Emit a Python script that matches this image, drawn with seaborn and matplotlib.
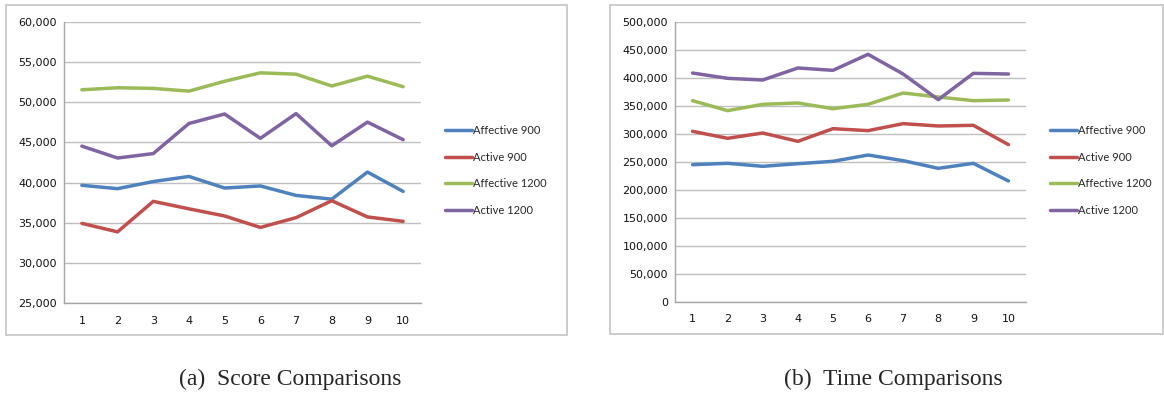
import matplotlib
matplotlib.use("Agg")
import matplotlib.pyplot as plt
import matplotlib.patches as patches
from matplotlib.ticker import FuncFormatter, FixedLocator
import numpy as np
import pandas as pd
import seaborn as sns

runs = [1, 2, 3, 4, 5, 6, 7, 8, 9, 10]
series_names = ["Affective 900", "Active 900", "Affective 1200", "Active 1200"]

# score comparisons
score_aff900 = [39660, 39240, 40130, 40760, 39320, 39580, 38400, 37930, 41310, 38900]
score_act900 = [34920, 33860, 37660, 36730, 35840, 34410, 35630, 37740, 35720, 35170]
score_aff1200 = [51560, 51810, 51730, 51390, 52620, 53670, 53500, 52030, 53250, 51940]
score_act1200 = [44540, 43060, 43610, 47360, 48540, 45510, 48590, 44580, 47530, 45340]

# time comparisons
time_aff900 = [245200, 247600, 242300, 247000, 251200, 262500, 252400, 238700, 247600, 216100]
time_act900 = [304800, 292300, 301800, 286900, 309500, 306000, 318500, 314300, 315500, 281000]
time_aff1200 = [359500, 341700, 353000, 355400, 345200, 353000, 373200, 366100, 359500, 360700]
time_act1200 = [408900, 399400, 396400, 417900, 413700, 442300, 407100, 361300, 408300, 407100]

colors = ["#4F81BD", "#C0504D", "#9BBB59", "#8064A2"]

def long_df(cols):
    frames = []
    for name, vals in zip(series_names, cols):
        frames.append(pd.DataFrame({"run": runs, "value": vals, "series": name}))
    return pd.concat(frames, ignore_index=True)

score_df = long_df([score_aff900, score_act900, score_aff1200, score_act1200])
time_df = long_df([time_aff900, time_act900, time_aff1200, time_act1200])

sns.set_style("white")
plt.rcParams["font.family"] = ["DejaVu Sans"]

W, H = 1164, 394
fig = plt.figure(figsize=(W / 100, H / 100), dpi=100)

def px_axes(x0, y0, x1, y1):
    return fig.add_axes([x0 / W, 1 - y1 / H, (x1 - x0) / W, (y1 - y0) / H])

# frames around each chart
for (x0, y0, x1, y1) in [(6, 5, 567, 335), (610, 5, 1163, 334)]:
    fig.patches.append(patches.Rectangle((x0 / W, 1 - y1 / H), (x1 - x0) / W, (y1 - y0) / H,
                                         transform=fig.transFigure, fill=False,
                                         edgecolor="#C4C4C4", linewidth=1.2))

def style_axes(ax, lo, hi, step, legend_x):
    ax.set_xlim(0.5, 10.5)
    ax.set_ylim(lo, hi)
    ax.set_yticks(np.arange(lo, hi + 1, step))
    ax.yaxis.set_major_formatter(FuncFormatter(lambda v, p: f"{int(v):,}"))
    ax.set_xticks(runs)
    ax.xaxis.set_minor_locator(FixedLocator(np.arange(0.5, 11, 1)))
    ax.tick_params(axis="x", which="major", length=0, labelsize=8, pad=9, labelcolor="#111111")
    ax.tick_params(axis="x", which="minor", length=3, color="#A6A6A6", width=1)
    ax.tick_params(axis="y", length=3, color="#A6A6A6", width=1, labelsize=8, pad=2,
                   labelcolor="#111111")
    ax.yaxis.grid(True, color="#BFBFBF", linewidth=1)
    ax.set_axisbelow(True)
    for s in ["top", "right"]:
        ax.spines[s].set_visible(False)
    for s in ["left", "bottom"]:
        ax.spines[s].set_color("#A6A6A6")
        ax.spines[s].set_linewidth(1)
    ax.set_xlabel("")
    ax.set_ylabel("")
    handles, labels = ax.get_legend_handles_labels()
    if ax.get_legend() is not None:
        ax.get_legend().remove()
    fig.legend(handles, labels, loc="center left",
               bbox_to_anchor=(legend_x / W, 1 - 170.5 / H),
               frameon=False, borderpad=0, borderaxespad=0,
               handlelength=2.4, handletextpad=0.15, labelspacing=1.4,
               prop={"family": "Lato", "size": 8})

ax1 = px_axes(64, 22, 421, 303)
sns.lineplot(data=score_df, x="run", y="value", hue="series", palette=colors,
             linewidth=2.5, ax=ax1)
style_axes(ax1, 25000, 60000, 5000, 445)

ax2 = px_axes(675, 22, 1026, 302)
sns.lineplot(data=time_df, x="run", y="value", hue="series", palette=colors,
             linewidth=2.5, ax=ax2)
style_axes(ax2, 0, 500000, 50000, 1050)

fig.text(290 / W, 1 - 379 / H, "(a)  Score Comparisons", ha="center", va="center",
         family="Liberation Serif", fontsize=17)
fig.text(893 / W, 1 - 379 / H, "(b)  Time Comparisons", ha="center", va="center",
         family="Liberation Serif", fontsize=17)

fig.savefig("out.png", dpi=100)
